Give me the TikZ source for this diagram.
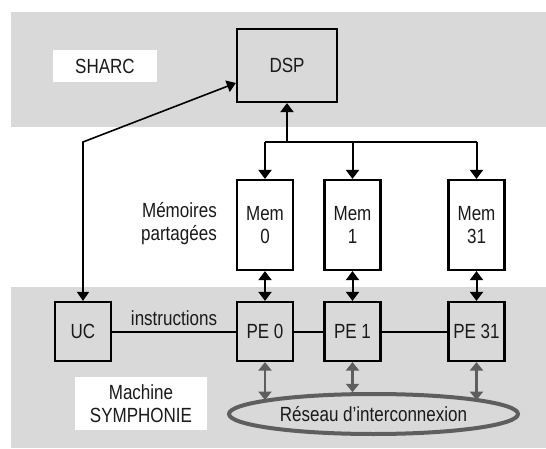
\documentclass[tikz,border=0pt]{standalone}
\usepackage{fontspec}
\setmainfont{Liberation Sans}[FakeStretch=0.83]
\usetikzlibrary{arrows.meta,shapes.geometric}
\definecolor{band}{HTML}{D9D9D9}
\definecolor{txt}{HTML}{1A1A1A}
\definecolor{darkg}{HTML}{5E5E5E}
\begin{document}
\begin{tikzpicture}[x=1pt,y=-1pt,
  every node/.style={font=\fontsize{20.5}{23}\selectfont, text=txt},
  box/.style={draw=black, line width=2.2pt, minimum width=56pt, inner sep=0pt, align=center},
  wbox/.style={fill=white, inner sep=0pt, align=center},
  conn/.style={line width=2pt, black},
  arr/.style={conn, -{Triangle[length=9pt,width=13pt]}},
  dbl/.style={conn, {Triangle[length=9pt,width=13pt]}-{Triangle[length=9pt,width=13pt]}},
  gdbl/.style={line width=2.2pt, darkg, {Triangle[length=8.5pt,width=13pt]}-{Triangle[length=8.5pt,width=13pt]}}
]
\useasboundingbox (0,0) rectangle (546,449);
\fill[white] (0,0) rectangle (546,449);
% bands
\fill[band] (11,12) rectangle (546,127);
\fill[band] (11,287) rectangle (546,448);

\node[wbox, minimum width=104pt, minimum height=32pt] (sharc) at (105,66) {SHARC};
\node[box, minimum width=100pt, minimum height=73pt] (dsp) at (287,65.5) {DSP};

\node[box, fill=white, minimum height=90pt] (mem0) at (265,225) {Mem\\0};
\node[box, fill=white, minimum height=90pt] (mem1) at (352.5,225) {Mem\\1};
\node[box, fill=white, minimum height=90pt] (mem31) at (476.5,225) {Mem\\31};
\node[anchor=east, align=right, inner sep=0pt] (memlab) at (217,223.5) {Mémoires\\partagées};

\node[box, minimum height=59pt] (uc) at (83,331.5) {UC};
\node[box, minimum height=59pt] (pe0) at (265,331.5) {PE 0};
\node[box, minimum height=59pt] (pe1) at (352.5,331.5) {PE 1};
\node[box, minimum height=59pt] (pe31) at (476.5,331.5) {PE 31};

\node[wbox, minimum width=132pt, minimum height=53pt] (mach) at (141,403.5) {Machine\\SYMPHONIE};
\node[ellipse, draw=darkg, line width=4pt, minimum width=289pt, minimum height=40pt, inner sep=0pt] (net) at (373.5,414) {Réseau d’interconnexion};

% DSP to memories
\coordinate (br) at (287,142);
\draw[arr] (br) -- (dsp.south);
\draw[conn] (br -| mem0.north) -- (br -| mem31.north);
\draw[arr] (br -| mem0.north) -- (mem0.north);
\draw[arr] (br -| mem1.north) -- (mem1.north);
\draw[arr] (br -| mem31.north) -- (mem31.north);

% memories to PEs
\draw[dbl] (mem0.south) -- (pe0.north);
\draw[dbl] (mem1.south) -- (pe1.north);
\draw[dbl] (mem31.south) -- (pe31.north);

% UC to DSP
\draw[conn, line width=1.6pt, {Triangle[length=9pt,width=12pt]}-{Triangle[length=9pt,width=12pt]}] (uc.north) -- (uc.north |- br) -- ([yshift=-17.5pt]dsp.west);

% instruction bus
\draw[conn] (uc) -- node[midway, yshift=13pt, inner sep=0pt] (instr) {instructions} (pe0);
\draw[conn] (pe0) -- (pe1);
\draw[conn] (pe1) -- (pe31);

% PEs to network
\draw[gdbl] (pe0.south) -- (pe0.south |- net.173);
\draw[gdbl] (pe1.south) -- (pe1.south |- net.137);
\draw[gdbl] (pe31.south) -- (pe31.south |- net.7.7);
\end{tikzpicture}
\end{document}
